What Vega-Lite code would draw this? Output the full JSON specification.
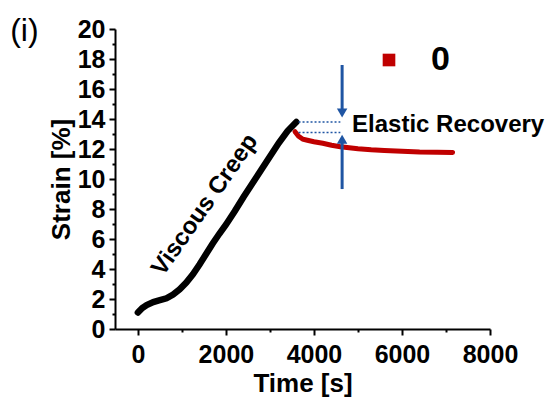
{
  "$schema": "https://vega.github.io/schema/vega-lite/v6.json",
  "width": 375,
  "height": 300,
  "autosize": {"type": "none"},
  "padding": {"left": 115, "top": 29, "right": 55, "bottom": 72},
  "background": "white",
  "config": {
    "view": {"stroke": null},
    "font": "Liberation Sans",
    "axis": {
      "grid": false,
      "domainColor": "black",
      "domainWidth": 2,
      "tickColor": "black",
      "tickWidth": 2,
      "labelFont": "Liberation Sans",
      "labelFontWeight": "bold",
      "labelFontSize": 25,
      "labelColor": "black",
      "labelOverlap": false,
      "labelFlush": false,
      "titleFont": "Liberation Sans",
      "titleFontWeight": "bold",
      "titleFontSize": 26,
      "titleColor": "black"
    }
  },
  "datasets": {
    "creep": [
      {"t": 0, "strain": 1.1},
      {"t": 100, "strain": 1.4},
      {"t": 200, "strain": 1.6},
      {"t": 350, "strain": 1.8},
      {"t": 500, "strain": 1.92},
      {"t": 650, "strain": 2.05},
      {"t": 800, "strain": 2.3},
      {"t": 950, "strain": 2.65},
      {"t": 1100, "strain": 3.1},
      {"t": 1250, "strain": 3.65},
      {"t": 1400, "strain": 4.3},
      {"t": 1550, "strain": 5.0},
      {"t": 1700, "strain": 5.7},
      {"t": 1850, "strain": 6.35},
      {"t": 2000, "strain": 6.95},
      {"t": 2200, "strain": 7.85},
      {"t": 2400, "strain": 8.8},
      {"t": 2600, "strain": 9.7},
      {"t": 2800, "strain": 10.6},
      {"t": 3000, "strain": 11.5},
      {"t": 3200, "strain": 12.4},
      {"t": 3400, "strain": 13.2},
      {"t": 3600, "strain": 13.8}
    ],
    "recovery": [
      {"t": 3570, "strain": 13.15, "series": "0"},
      {"t": 3650, "strain": 12.85, "series": "0"},
      {"t": 3750, "strain": 12.65, "series": "0"},
      {"t": 3850, "strain": 12.58, "series": "0"},
      {"t": 4000, "strain": 12.48, "series": "0"},
      {"t": 4200, "strain": 12.38, "series": "0"},
      {"t": 4400, "strain": 12.25, "series": "0"},
      {"t": 4600, "strain": 12.15, "series": "0"},
      {"t": 4800, "strain": 12.08, "series": "0"},
      {"t": 5000, "strain": 12.02, "series": "0"},
      {"t": 5300, "strain": 11.95, "series": "0"},
      {"t": 5600, "strain": 11.9, "series": "0"},
      {"t": 6000, "strain": 11.85, "series": "0"},
      {"t": 6400, "strain": 11.8, "series": "0"},
      {"t": 6800, "strain": 11.78, "series": "0"},
      {"t": 7150, "strain": 11.77, "series": "0"}
    ],
    "levels": [
      {"t1": 3650, "t2": 4600, "strain": 13.8},
      {"t1": 3650, "t2": 4600, "strain": 13.1}
    ],
    "shafts": [
      {"t": 4640, "from": 17.6, "to": 14.4},
      {"t": 4640, "from": 9.33, "to": 12.7}
    ],
    "heads": [
      {"t": 4640, "strain": 14.4, "dir": "triangle-down"},
      {"t": 4640, "strain": 12.65, "dir": "triangle-up"}
    ],
    "notes": [
      {"t": 1525, "strain": 8.27, "text": "Viscous Creep", "kind": "creep"},
      {"t": 4866, "strain": 13.6, "text": "Elastic Recovery", "kind": "recovery"},
      {"t": -2580, "strain": 19.85, "text": "(i)", "kind": "panel"}
    ]
  },
  "resolve": {"axis": {"x": "independent", "y": "independent"}},
  "layer": [
    {
      "layer": [
        {
          "data": {"name": "creep"},
          "mark": {"type": "line", "color": "black", "strokeWidth": 6.5, "strokeCap": "round"},
          "encoding": {
            "x": {
              "field": "t",
              "type": "quantitative",
              "scale": {"domain": [-520, 8000], "nice": false, "zero": false},
              "axis": {
                "title": "Time [s]",
                "orient": "bottom",
                "values": [0, 2000, 4000, 6000, 8000],
                "format": "d",
                "labelOverlap": false,
                "tickSize": 6,
                "labelPadding": 7,
                "titlePadding": 3
              }
            },
            "y": {
              "field": "strain",
              "type": "quantitative",
              "scale": {"domain": [0, 20], "nice": false},
              "axis": {
                "title": "Strain [%]",
                "orient": "left",
                "values": [0, 4, 8, 12, 16, 20],
                "labelOverlap": false,
                "tickSize": 6,
                "labelPadding": 4,
                "titlePadding": 3
              }
            }
          }
        },
        {
          "data": {"name": "recovery"},
          "mark": {"type": "line", "strokeWidth": 5, "strokeCap": "round"},
          "encoding": {
            "x": {"field": "t", "type": "quantitative"},
            "y": {"field": "strain", "type": "quantitative"},
            "color": {
              "field": "series",
              "type": "nominal",
              "scale": {"domain": ["0"], "range": ["#c00000"]},
              "legend": {
                "title": null,
                "orient": "none",
                "legendX": 257,
                "legendY": 14,
                "padding": 0,
                "symbolType": "square",
                "symbolSize": 160,
                "symbolFillColor": "#c00000",
                "symbolStrokeColor": "#c00000",
                "symbolStrokeWidth": 0,
                "labelFont": "Liberation Sans",
                "labelFontSize": 34,
                "labelFontWeight": "bold",
                "labelColor": "black",
                "labelOffset": 25
              }
            }
          }
        },
        {
          "data": {"name": "levels"},
          "mark": {"type": "rule", "color": "#1f55a3", "strokeWidth": 1.5, "strokeDash": [2, 2]},
          "encoding": {
            "x": {"field": "t1", "type": "quantitative"},
            "x2": {"field": "t2"},
            "y": {"field": "strain", "type": "quantitative"}
          }
        },
        {
          "data": {"name": "shafts"},
          "mark": {"type": "rule", "color": "#1f55a3", "strokeWidth": 3},
          "encoding": {
            "x": {"field": "t", "type": "quantitative"},
            "y": {"field": "from", "type": "quantitative"},
            "y2": {"field": "to"}
          }
        },
        {
          "data": {"name": "heads"},
          "mark": {"type": "point", "filled": true, "color": "#1f55a3", "opacity": 1, "size": 110},
          "encoding": {
            "x": {"field": "t", "type": "quantitative"},
            "y": {"field": "strain", "type": "quantitative"},
            "shape": {"field": "dir", "type": "nominal", "scale": null, "legend": null}
          }
        },
        {
          "data": {"name": "notes"},
          "transform": [{"filter": "datum.kind === 'creep'"}],
          "mark": {"type": "text", "angle": -55, "align": "center", "baseline": "middle", "font": "Liberation Sans", "fontWeight": "bold", "fontSize": 24, "color": "black"},
          "encoding": {
            "x": {"field": "t", "type": "quantitative"},
            "y": {"field": "strain", "type": "quantitative"},
            "text": {"field": "text"}
          }
        },
        {
          "data": {"name": "notes"},
          "transform": [{"filter": "datum.kind === 'recovery'"}],
          "mark": {"type": "text", "align": "left", "baseline": "middle", "font": "Liberation Sans", "fontWeight": "bold", "fontSize": 24, "color": "black"},
          "encoding": {
            "x": {"field": "t", "type": "quantitative"},
            "y": {"field": "strain", "type": "quantitative"},
            "text": {"field": "text"}
          }
        },
        {
          "data": {"name": "notes"},
          "transform": [{"filter": "datum.kind === 'panel'"}],
          "mark": {"type": "text", "align": "center", "baseline": "middle", "font": "Liberation Sans", "fontWeight": "normal", "fontSize": 32, "color": "black", "clip": false},
          "encoding": {
            "x": {"field": "t", "type": "quantitative"},
            "y": {"field": "strain", "type": "quantitative"},
            "text": {"field": "text"}
          }
        }
      ]
    },
    {
      "data": {"name": "creep"},
      "mark": {"type": "line", "opacity": 0},
      "encoding": {
        "x": {
          "field": "t",
          "type": "quantitative",
          "axis": {
            "title": null,
            "orient": "bottom",
            "values": [1000, 3000, 5000, 7000],
            "labels": false,
            "domain": false,
            "tickSize": 3
          }
        },
        "y": {
          "field": "strain",
          "type": "quantitative",
          "axis": {
            "title": null,
            "orient": "left",
            "values": [2, 6, 10, 14, 18],
            "labelOverlap": false,
            "labelPadding": 4,
            "domain": false,
            "tickSize": 6
          }
        }
      }
    },
    {
      "data": {"name": "creep"},
      "mark": {"type": "line", "opacity": 0},
      "encoding": {
        "x": {"field": "t", "type": "quantitative", "axis": null},
        "y": {
          "field": "strain",
          "type": "quantitative",
          "axis": {
            "title": null,
            "orient": "left",
            "values": [1, 3, 5, 7, 9, 11, 13, 15, 17, 19],
            "labels": false,
            "domain": false,
            "tickSize": 3
          }
        }
      }
    }
  ]
}
